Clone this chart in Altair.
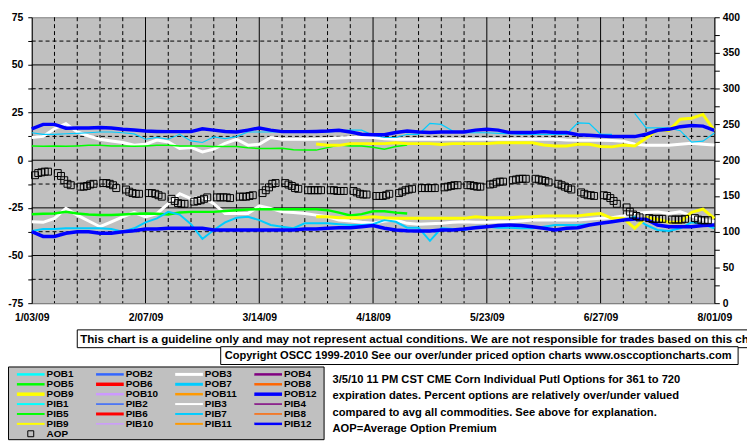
import json
import altair as alt
import pandas as pd

# ---------------- data ----------------
DAYS = [3.5 * j for j in range(61)]  # days after 1/03/09, twice a week

POB12 = [16.5, 18.8, 18.8, 16.8, 16.9, 16.9, 17.2, 16.9, 16.2, 15.8,
         15.3, 15.1, 15.0, 15.0, 15.0, 16.5, 15.8, 15.1, 14.8, 15.8,
         16.9, 15.8, 15.0, 15.0, 15.0, 15.1, 15.3, 15.7, 14.8, 13.6,
         13.4, 13.4, 14.5, 15.3, 14.8, 14.5, 14.8, 14.8, 14.8, 15.8,
         16.2, 15.8, 14.5, 14.5, 14.5, 15.0, 14.5, 14.5, 13.4, 13.1,
         12.7, 12.4, 12.4, 12.4, 13.6, 15.7, 16.2, 17.6, 18.2, 17.9, 15.7]
POB7 = [14.4, 13.6, 13.6, 13.9, 14.1, 14.4, 14.8, 14.8, 14.4, 13.8,
        11.0, 12.0, 11.0, 13.6, 10.1, 9.3, 12.2, 11.3, 12.4, 14.8,
        14.8, 14.8, 14.8, 15.1, 15.3, 15.0, 14.8, 15.3, 15.8, 15.8,
        13.1, 11.9, 11.9, 13.6, 13.6, 19.3, 18.8, 15.3, 14.4, 14.4,
        14.4, 14.1, 13.9, 13.6, 13.6, 13.6, 13.6, 13.6, 19.6, 19.3,
        13.6, 13.6, None, 24.6, 17.0, 17.0, 17.0, 15.5, 9.5, 10.0, 14.3]
POB3 = [11.9, 12.5, 16.5, 19.2, 14.8, 12.7, 11.0, 10.1, 9.3, 7.9,
        8.4, 10.6, 9.6, 6.1, 6.7, 4.4, 5.8, 8.9, 11.0, 7.9,
        8.4, 11.9, 11.0, 11.0, 11.0, 11.0, 11.3, 11.7, 11.9, 11.9,
        11.9, 11.3, 11.0, 11.0, 11.0, 11.0, 11.0, 11.0, 11.0, 11.0,
        11.0, 11.0, 11.0, 11.0, 11.0, 11.0, 11.0, 10.6, 10.5, 10.5,
        10.5, 10.3, 10.0, 8.4, 7.9, 7.9, 7.9, 8.4, 8.9, 8.4, 8.0]
POB5 = [7.5, 7.3, 7.5, 7.3, 7.5, 7.8, 7.8, 7.5, 7.5, 7.3,
        7.5, 7.8, 7.8, 7.5, 7.5, 7.5, 7.2, 7.2, 7.2, 6.5,
        6.1, 6.1, 6.3, 5.5, 5.3, 5.3, 6.6, 8.0, 7.5, 7.5,
        6.8, 5.8, 7.2, 8.0] + [None] * 27
POB9 = [None] * 25 + [
        8.5, 7.8, 7.8, 8.7, 8.7, 8.7, 8.7, 9.2, 8.7, 8.7,
        8.7, 8.2, 8.7, 8.7, 8.7, 8.7, 9.2, 9.2, 9.2, 9.2,
        8.0, 7.5, 7.5, 8.4, 8.4, 7.2, 7.0, 8.0, 7.5, 11.5,
        16.0, 15.5, 21.5, 22.0, 24.0, 15.5]

PIB5 = [-28.3, -28.1, -28.0, -27.1, -28.0, -28.5, -28.8, -28.8, -28.5, -28.1,
        -28.0, -28.1, -28.5, -27.4, -27.1, -27.1, -27.1, -26.7, -26.2, -25.9,
        -25.7, -25.7, -25.7, -25.7, -25.7, -25.7, -26.2, -27.5, -29.0, -28.3,
        -26.8, -26.8, -27.5, -28.0] + [None] * 27
PIB3 = [-32.3, -32.6, -30.5, -25.3, -28.8, -31.9, -34.9, -32.3, -29.7, -27.4,
        -29.7, -28.0, -22.8, -17.6, -20.2, -19.3, -22.8, -28.0, -28.0, -28.0,
        -24.0, -25.3, -27.1, -27.4, -28.0, -28.8, -29.7, -31.4, -31.9, -32.6,
        -33.1, -31.9, -31.4, -33.1, -33.6, -33.3, -33.1, -32.6, -32.3, -32.6,
        -32.6, -32.3, -32.3, -31.9, -31.4, -31.4, -31.4, -31.4, -31.4, -30.9,
        -30.5, -30.2, -29.2, -28.0, -27.4, -27.1, -28.0, -27.1, -29.2, -31.4, -32.3]
PIB7 = [-37.1, -36.1, -36.1, -35.7, -35.7, -35.7, -35.7, -36.1, -37.5, -35.7,
        -32.6, -30.5, -27.1, -28.5, -33.6, -41.3, -36.6, -32.6, -30.2, -29.7,
        -31.4, -34.0, -34.9, -35.7, -33.1, -33.1, -33.1, -33.6, -34.0, -34.0,
        -33.6, -31.4, -32.3, -35.4, -35.4, -42.3, -35.7, -36.1, -36.6, -34.9,
        -34.9, -35.4, -35.4, -35.7, -35.7, -34.9, -34.0, -34.0, -34.0, -33.6,
        -33.1, -32.3, -31.4, -29.7, -34.0, -36.6, -37.1, -35.7, -32.6, -33.6, -35.7]
PIB12 = [-37.5, -40.0, -40.0, -38.3, -37.5, -37.5, -38.3, -38.3, -37.5, -37.0,
         -36.1, -36.1, -35.7, -35.7, -35.7, -35.7, -36.6, -36.6, -36.6, -36.6,
         -36.6, -36.6, -36.6, -36.6, -36.1, -36.1, -35.7, -35.4, -35.4, -34.9,
         -34.3, -35.7, -36.6, -37.0, -37.1, -37.1, -36.6, -36.6, -36.1, -35.4,
         -34.9, -34.3, -34.0, -34.3, -34.9, -35.7, -36.6, -35.7, -35.4, -34.0,
         -33.1, -32.3, -31.4, -30.9, -30.9, -34.0, -34.9, -34.9, -34.9, -34.3, -34.0]
PIB9 = [None] * 25 + [
        -29.7, -29.7, -30.2, -30.2, -30.2, -29.7, -30.2, -30.5, -30.5, -30.5,
        -30.5, -30.5, -30.5, -30.5, -29.7, -30.2, -30.2, -30.2, -29.8, -29.7,
        -29.3, -29.2, -29.2, -29.2, -28.5, -28.0, -30.5, -30.5, -35.7, -30.0,
        -31.0, -32.5, -32.5, -27.4, -25.7, -30.5]

# Average Option Premium (right axis), five trading days per week
AOP_DAYS = [7 * w + d for w in range(30) for d in range(1, 6)]
AOP = [179, 182, 183, 184, 184,  182, 178, 172, 167, 165,
       163, 163, 164, 166, 167,  168, 168, 167, 165, 161,
       159, 156, 154, 153, 153,  154, 154, 153, 151, 149,
       146, 143, 140, 139, 139,  142, 143, 144, 146, 148,
       148, 148, 148, 148, 147,  149, 149, 149, 150, 151,
       154, 158, 162, 167, 168,  168, 166, 164, 161, 160,
       158, 158, 158, 158, 158,  158, 158, 157, 157, 157,
       157, 155, 153, 152, 152,  150, 150, 150, 151, 153,
       154, 156, 158, 159, 160,  161, 161, 161, 161, 161,
       162, 163, 164, 165, 165,  165, 165, 164, 163, 163,
       166, 167, 169, 170, 170,  172, 173, 174, 174, 174,
       174, 173, 172, 171, 169,  167, 165, 163, 161, 159,
       155, 153, 151, 151, 150,  151, 150, 147, 143, 139,
       134, 128, 124, 122, 120,  119, 118, 118, 118, 118,
       117, 117, 117, 117, 118,  119, 117, 116, 116, 116]

X_TICK_DAYS = [0, 35, 70, 105, 140, 175, 210]
X_LABELS = ["1/03/09", "2/07/09", "3/14/09", "4/18/09", "5/23/09", "6/27/09", "8/01/09"]
LEFT_TICKS = [-75 + 12.5 * i for i in range(13)]
RIGHT_TICKS = list(range(0, 401, 25))
H_SOLID = [-50, -25, 0, 25, 50]
H_DASH = [-62.5, -37.5, -12.5, 12.5, 37.5, 62.5]
V_SOLID = [35, 70, 105, 140, 175]
V_DASH = [d for d in range(7, 210, 7) if d % 35]

LEGEND_NAMES = [f"POB{i}" for i in range(1, 13)] + [f"PIB{i}" for i in range(1, 13)] + ["AOP"]
LEGEND_COLORS = ["#00FFFF", "#3366FF", "#FFFFFF", "#800080", "#00FF00", "#FF0000",
                 "#00CCFF", "#FF6600", "#FFFF00", "#CC99FF", "#FF9900", "#0000FF",
                 "#00FFFF", "#3366FF", "#FFFFFF", "#800080", "#00FF00", "#FF0000",
                 "#00CCFF", "#FF6600", "#FFFF00", "#CC99FF", "#FF9900", "#0000FF",
                 "#000000"]
LEGEND_WIDTHS = [2.5, 2.5, 3, 2.5, 2.5, 3.5, 3, 2.5, 3.5, 2.5, 2.5, 3.5,
                 2, 1.5, 2, 1.5, 2, 3, 2, 1.5, 2, 1.5, 2, 2.5, 1]

DISCLAIMER = ("This chart is a guideline only and may not represent actual conditions. "
              "We are not responsible for trades based on this chart.")
COPYRIGHT = ("Copyright OSCC 1999-2010 See our over/under priced option charts "
             "www.osccoptioncharts.com")
INFO_LINES = ["3/5/10 11 PM CST CME Corn Individual Putl Options for 361 to 720",
              "expiration dates. Percent options are relatively over/under valued",
              "compared to avg all commodities. See above for explanation.",
              "AOP=Average Option Premium"]

# ---------------- helpers ----------------
FONT = "Liberation Sans"


def series_df(values):
    rows, seg = [], 0
    for d, v in zip(DAYS, values):
        if v is None:
            seg += 1
            continue
        rows.append({"day": d, "value": v, "seg": seg})
    return pd.DataFrame(rows)


xscale = alt.Scale(domain=[0, 210], nice=False, zero=False)
xaxis = alt.Axis(values=X_TICK_DAYS, title=None, grid=False, ticks=False,
                 labelExpr=json.dumps(X_LABELS) + "[round(datum.value / 35)]",
                 domainColor="#808080", labelFont=FONT, labelFontWeight="bold",
                 labelFontSize=10.5, labelColor="black", labelPadding=10,
                 labelFlush=False, labelOverlap=False)
yscale = alt.Scale(domain=[-75, 75], nice=False, zero=False)
yaxis = alt.Axis(values=LEFT_TICKS, title=None, grid=False, orient="left",
                 labelExpr="datum.value % 25 == 0 ? '' + datum.value : ''",
                 tickSize=4, tickColor="black", domainColor="black",
                 labelFont=FONT, labelFontWeight="bold", labelFontSize=10.5,
                 labelColor="black", labelPadding=5, labelOverlap=False)
rscale = alt.Scale(domain=[0, 400], nice=False, zero=False)
raxis = alt.Axis(values=RIGHT_TICKS, title=None, grid=False, orient="right",
                 labelExpr="datum.value % 50 == 0 ? '' + datum.value : ''",
                 tickSize=5, tickColor="black", domainColor="black",
                 labelFont=FONT, labelFontWeight="bold", labelFontSize=10.5,
                 labelColor="black", labelPadding=3, labelOverlap=False)

X = alt.X("day:Q", scale=xscale, axis=xaxis)
Y = alt.Y("value:Q", scale=yscale, axis=yaxis)

# grid
hs = alt.Chart(pd.DataFrame({"value": H_SOLID})).mark_rule(color="black", strokeWidth=1).encode(y=Y)
hd = alt.Chart(pd.DataFrame({"value": H_DASH})).mark_rule(color="black", strokeWidth=1, strokeDash=[4, 3]).encode(y=Y)
vs = alt.Chart(pd.DataFrame({"day": V_SOLID})).mark_rule(color="black", strokeWidth=1).encode(x=X)
vd = alt.Chart(pd.DataFrame({"day": V_DASH})).mark_rule(color="black", strokeWidth=1, strokeDash=[4, 3]).encode(x=X)

STYLES = [
    (POB3, "#FFFFFF", 3), (POB5, "#00FF00", 1.5), (POB7, "#00CCFF", 1.2),
    (POB9, "#FFFF00", 3), (POB12, "#0000FF", 3.5),
    (PIB3, "#FFFFFF", 3), (PIB5, "#00FF00", 2.5), (PIB7, "#00CCFF", 2),
    (PIB9, "#FFFF00", 3), (PIB12, "#0000FF", 3.5),
]
line_layers = [
    alt.Chart(series_df(vals)).mark_line(color=col, strokeWidth=w, strokeJoin="miter")
    .encode(x=X, y=Y, detail="seg:N")
    for vals, col, w in STYLES
]

left = alt.layer(hd, hs, vd, vs, *line_layers)

aop = alt.Chart(pd.DataFrame({"day": AOP_DAYS, "aop": AOP})).mark_point(
    shape="square", filled=False, color="black", size=49, strokeWidth=1, opacity=1
).encode(x=X, y=alt.Y("aop:Q", scale=rscale, axis=raxis))

# boxes and notes under the plot
box1 = alt.Chart().mark_rect(fill="white", stroke="black", strokeWidth=1).encode(
    x=alt.value(46), x2=alt.value(740), y=alt.value(316), y2=alt.value(334))
box2 = alt.Chart().mark_rect(fill="white", stroke="black", strokeWidth=1).encode(
    x=alt.value(191), x2=alt.value(714), y=alt.value(333), y2=alt.value(351))
txt_style = dict(align="left", baseline="middle", font=FONT, fontWeight="bold",
                 fontSize=11.2, color="black")
t1 = alt.Chart().mark_text(**dict(txt_style, fontSize=11.7)).encode(
    x=alt.value(49), y=alt.value(325.5), text=alt.value(DISCLAIMER))
t2 = alt.Chart().mark_text(**dict(txt_style, fontSize=11.2)).encode(
    x=alt.value(195), y=alt.value(342.5), text=alt.value(COPYRIGHT))

info = alt.Chart(pd.DataFrame({"line": INFO_LINES, "i": list(range(len(INFO_LINES)))})).transform_calculate(
    py="366.5 + 16.6 * datum.i"
).mark_text(**dict(txt_style, fontSize=11.3)).encode(
    x=alt.value(304), y=alt.Y("py:Q", scale=None, axis=None), text="line:N")

# legend
leg_style = dict(txt_style, fontSize=10)
leg_df = pd.DataFrame({"name": LEGEND_NAMES, "color": LEGEND_COLORS,
                       "width": LEGEND_WIDTHS, "idx": list(range(len(LEGEND_NAMES)))})
leg_base = alt.Chart(leg_df).transform_calculate(
    col="datum.idx % 4", row="floor(datum.idx / 4)"
).transform_calculate(
    x1="-15 + 80 * datum.col", x2="13 + 80 * datum.col", xm="-1 + 80 * datum.col",
    lx="15 + 80 * datum.col", ly="361 + 10 * datum.row"
)
leg_box = alt.Chart().mark_rect(fill="#C0C0C0", stroke="black", strokeWidth=1).encode(
    x=alt.value(-23.5), x2=alt.value(295.5), y=alt.value(353.5), y2=alt.value(427))
leg_lines = leg_base.transform_filter("datum.name != 'AOP'").mark_rule(strokeCap="butt").encode(
    x=alt.X("x1:Q", scale=None, axis=None), x2="x2:Q",
    y=alt.Y("ly:Q", scale=None, axis=None),
    color=alt.Color("color:N", scale=None, legend=None),
    strokeWidth=alt.StrokeWidth("width:Q", scale=None, legend=None))
leg_sym = leg_base.transform_filter("datum.name == 'AOP'").mark_point(
    shape="square", filled=False, color="black", size=36, strokeWidth=1, opacity=1).encode(
    x=alt.X("xm:Q", scale=None, axis=None), y=alt.Y("ly:Q", scale=None, axis=None))
leg_text = leg_base.mark_text(**leg_style).encode(
    x=alt.X("lx:Q", scale=None, axis=None), y=alt.Y("ly:Q", scale=None, axis=None), text="name:N")

chart = alt.layer(
    left, aop, box1, box2, t1, t2, info, leg_box, leg_lines, leg_sym, leg_text
).resolve_scale(y="independent").properties(
    width=690, height=289,
    autosize=alt.AutoSizeParams(type="none"),
    padding={"left": 24, "top": 7, "right": 33, "bottom": 140},
    background="white",
).configure_view(fill="#C0C0C0", stroke="#808080", strokeWidth=1)

chart.save("out.html", embed_options={"renderer": "svg", "actions": False})
